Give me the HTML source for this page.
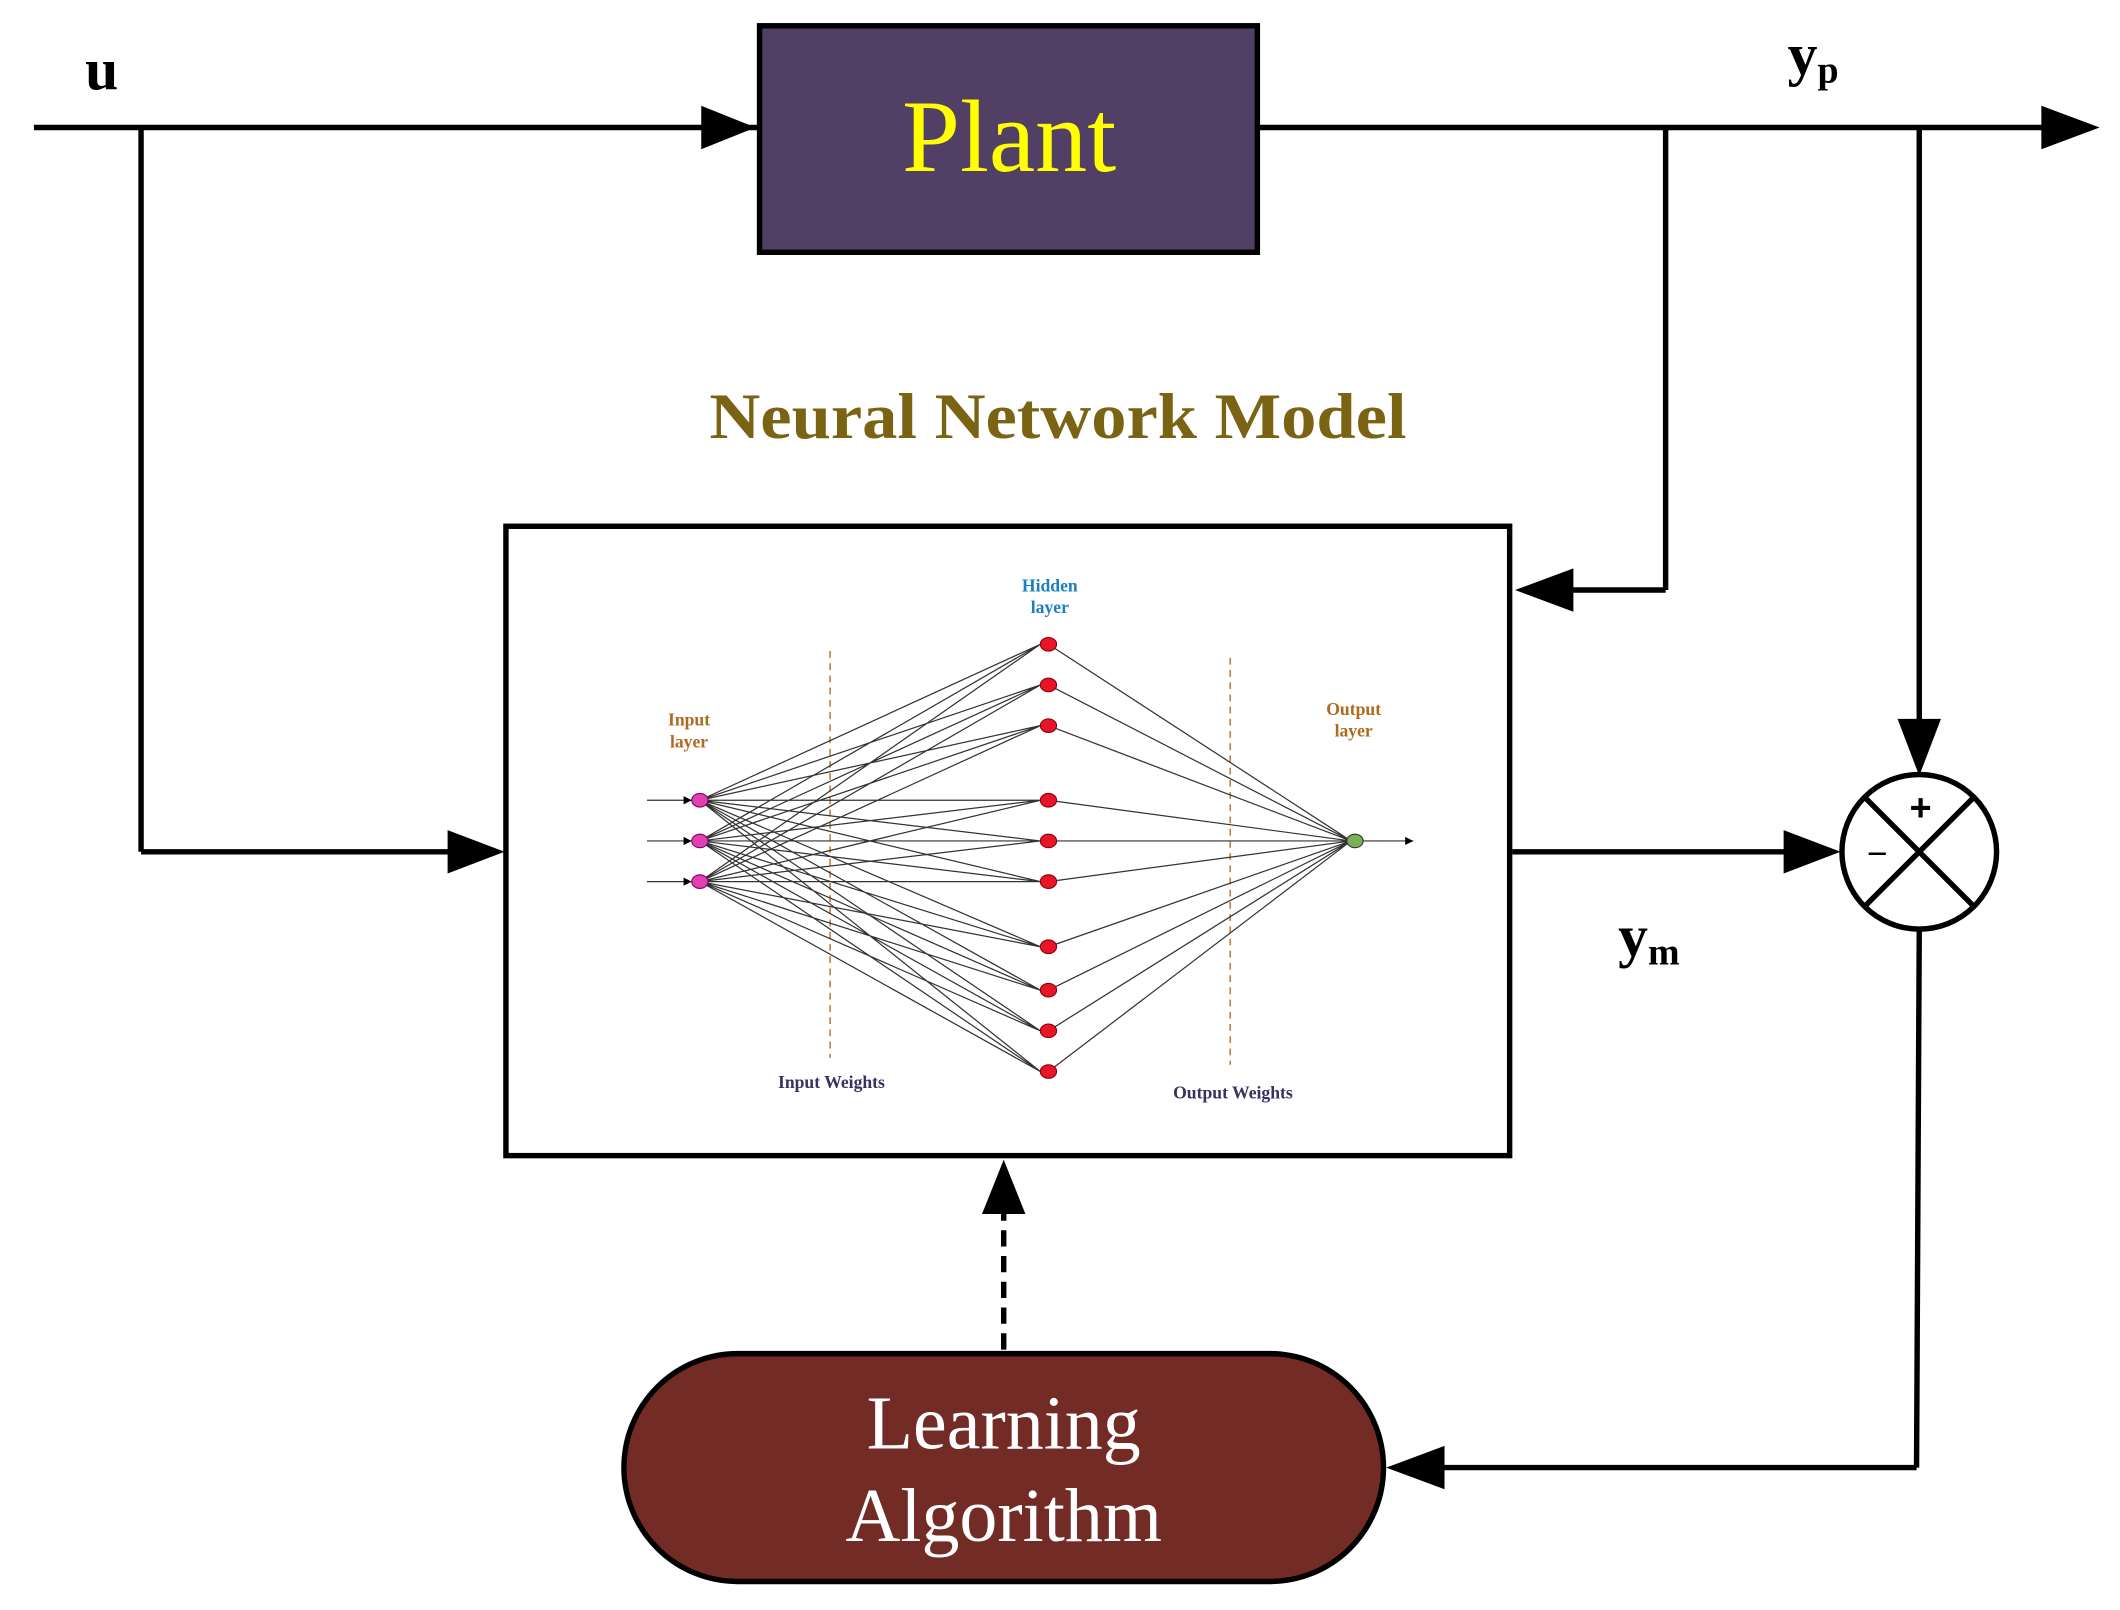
<!DOCTYPE html>
<html><head><meta charset="utf-8"><style>html,body{margin:0;padding:0;background:#fff}svg{display:block}</style></head>
<body>
<svg width="2120" height="1610" viewBox="0 0 1563 1187" preserveAspectRatio="none" xmlns="http://www.w3.org/2000/svg">
<defs>
<marker id="s" markerWidth="6" markerHeight="6" refX="6" refY="3" orient="auto" markerUnits="userSpaceOnUse" viewBox="0 0 6 6"><path d="M0,0 L6,3 L0,6 z" fill="#000"/></marker>
</defs>
<g stroke="#000" stroke-width="4" fill="none">
<line x1="25" y1="94" x2="1510" y2="94"/>
<line x1="104" y1="94" x2="104" y2="628"/><line x1="104" y1="628" x2="335" y2="628"/>
<line x1="1228" y1="94" x2="1228" y2="435"/><line x1="1228" y1="435" x2="1155" y2="435"/>
<line x1="1415" y1="94" x2="1415" y2="532"/>
<line x1="1115" y1="628" x2="1318" y2="628"/>
<line x1="1415" y1="685" x2="1413" y2="1082"/><line x1="1413" y1="1082" x2="1062" y2="1082"/>
<line x1="740" y1="995" x2="740" y2="895" stroke-dasharray="12,7"/>
</g>
<g fill="#000">
<path d="M517,78 L557,94 L517,110 z"/>
<path d="M1505,78 L1548,94 L1505,110 z"/>
<path d="M330,612 L372,628 L330,644 z"/>
<path d="M1160,419 L1117,435 L1160,451 z"/>
<path d="M1399,530 L1415,572 L1431,530 z"/>
<path d="M1315,612 L1357,628 L1315,644 z"/>
<path d="M1065,1066 L1022,1082 L1065,1098 z"/>
<path d="M724,895 L740,855 L756,895 z"/>
</g>
<rect x="560" y="19" width="367" height="167" fill="#523f65" stroke="#000" stroke-width="4"/>
<text x="665" y="126" textLength="158" lengthAdjust="spacingAndGlyphs" font-family="Liberation Serif, serif" font-size="76" fill="#ffff00">Plant</text>
<text x="75" y="66" text-anchor="middle" font-family="Liberation Serif, serif" font-size="44" font-weight="bold">u</text>
<text x="1318" y="55" font-family="Liberation Serif, serif" font-size="44" font-weight="bold">y<tspan font-size="28" dy="6">p</tspan></text>
<text x="1193" y="705" font-family="Liberation Serif, serif" font-size="44" font-weight="bold">y<tspan font-size="28" dy="6">m</tspan></text>
<text x="523" y="323" textLength="514" lengthAdjust="spacingAndGlyphs" font-family="Liberation Serif, serif" font-size="48" font-weight="bold" fill="#7a6414">Neural Network Model</text>
<rect x="373" y="388" width="740" height="464" fill="#fff" stroke="#000" stroke-width="4"/>
<circle cx="1415" cy="628" r="57" fill="#fff" stroke="#000" stroke-width="4"/>
<line x1="1375" y1="588" x2="1455" y2="668" stroke="#000" stroke-width="4"/>
<line x1="1455" y1="588" x2="1375" y2="668" stroke="#000" stroke-width="4"/>
<text x="1416" y="605" text-anchor="middle" font-family="Liberation Sans, sans-serif" font-size="28" font-weight="bold">+</text>
<text x="1384" y="638" text-anchor="middle" font-family="Liberation Sans, sans-serif" font-size="26">−</text>
<rect x="460" y="998" width="560" height="168" rx="84" ry="84" fill="#722b25" stroke="#000" stroke-width="4"/>
<text x="740" y="1068" text-anchor="middle" font-family="Liberation Serif, serif" font-size="56" fill="#fff">Learning</text>
<text x="740" y="1136" text-anchor="middle" font-family="Liberation Serif, serif" font-size="56" fill="#fff">Algorithm</text>
<g stroke="#c08040" stroke-width="1.2" stroke-dasharray="5,4"><line x1="612" y1="480" x2="612" y2="780"/><line x1="907" y1="485" x2="907" y2="785"/></g>
<g stroke="#333" stroke-width="0.9" marker-end="url(#s)">
<line x1="477" y1="590" x2="510" y2="590"/><line x1="477" y1="620" x2="510" y2="620"/><line x1="477" y1="650" x2="510" y2="650"/>
<line x1="1004" y1="620" x2="1042" y2="620"/>
</g>
<g stroke="#333" stroke-width="0.9">
<path d="M516,590L767,475M516,590L767,505M516,590L767,535M516,590L767,590M516,590L767,620M516,590L767,650M516,590L767,698M516,590L767,730M516,590L767,760M516,590L767,790
M516,620L767,475M516,620L767,505M516,620L767,535M516,620L767,590M516,620L767,620M516,620L767,650M516,620L767,698M516,620L767,730M516,620L767,760M516,620L767,790
M516,650L767,475M516,650L767,505M516,650L767,535M516,650L767,590M516,650L767,620M516,650L767,650M516,650L767,698M516,650L767,730M516,650L767,760M516,650L767,790
M773,475L996,620M773,505L996,620M773,535L996,620M773,590L996,620M773,620L996,620M773,650L996,620M773,698L996,620M773,730L996,620M773,760L996,620M773,790L996,620" fill="none"/>
</g>
<g fill="#e8152a" stroke="#8a0000" stroke-width="0.8">
<ellipse cx="773" cy="475" rx="6" ry="5"/><ellipse cx="773" cy="505" rx="6" ry="5"/><ellipse cx="773" cy="535" rx="6" ry="5"/><ellipse cx="773" cy="590" rx="6" ry="5"/><ellipse cx="773" cy="620" rx="6" ry="5"/><ellipse cx="773" cy="650" rx="6" ry="5"/><ellipse cx="773" cy="698" rx="6" ry="5"/><ellipse cx="773" cy="730" rx="6" ry="5"/><ellipse cx="773" cy="760" rx="6" ry="5"/><ellipse cx="773" cy="790" rx="6" ry="5"/>
</g>
<g fill="#e040b0" stroke="#800060" stroke-width="0.8">
<ellipse cx="516" cy="590" rx="6" ry="5"/><ellipse cx="516" cy="620" rx="6" ry="5"/><ellipse cx="516" cy="650" rx="6" ry="5"/>
</g>
<ellipse cx="999" cy="620" rx="6" ry="5" fill="#7ab050" stroke="#333" stroke-width="0.8"/>
<g font-family="Liberation Serif, serif" font-weight="bold" font-size="13" text-anchor="middle">
<text x="774" y="436" fill="#1a80c0">Hidden</text><text x="774" y="452" fill="#1a80c0">layer</text>
<text x="508" y="535" fill="#b06a20">Input</text><text x="508" y="551" fill="#b06a20">layer</text>
<text x="998" y="527" fill="#b06a20">Output</text><text x="998" y="543" fill="#b06a20">layer</text>
<text x="613" y="802" fill="#3b3160">Input Weights</text>
<text x="909" y="810" fill="#3b3160">Output Weights</text>
</g>
</svg>
</body></html>
